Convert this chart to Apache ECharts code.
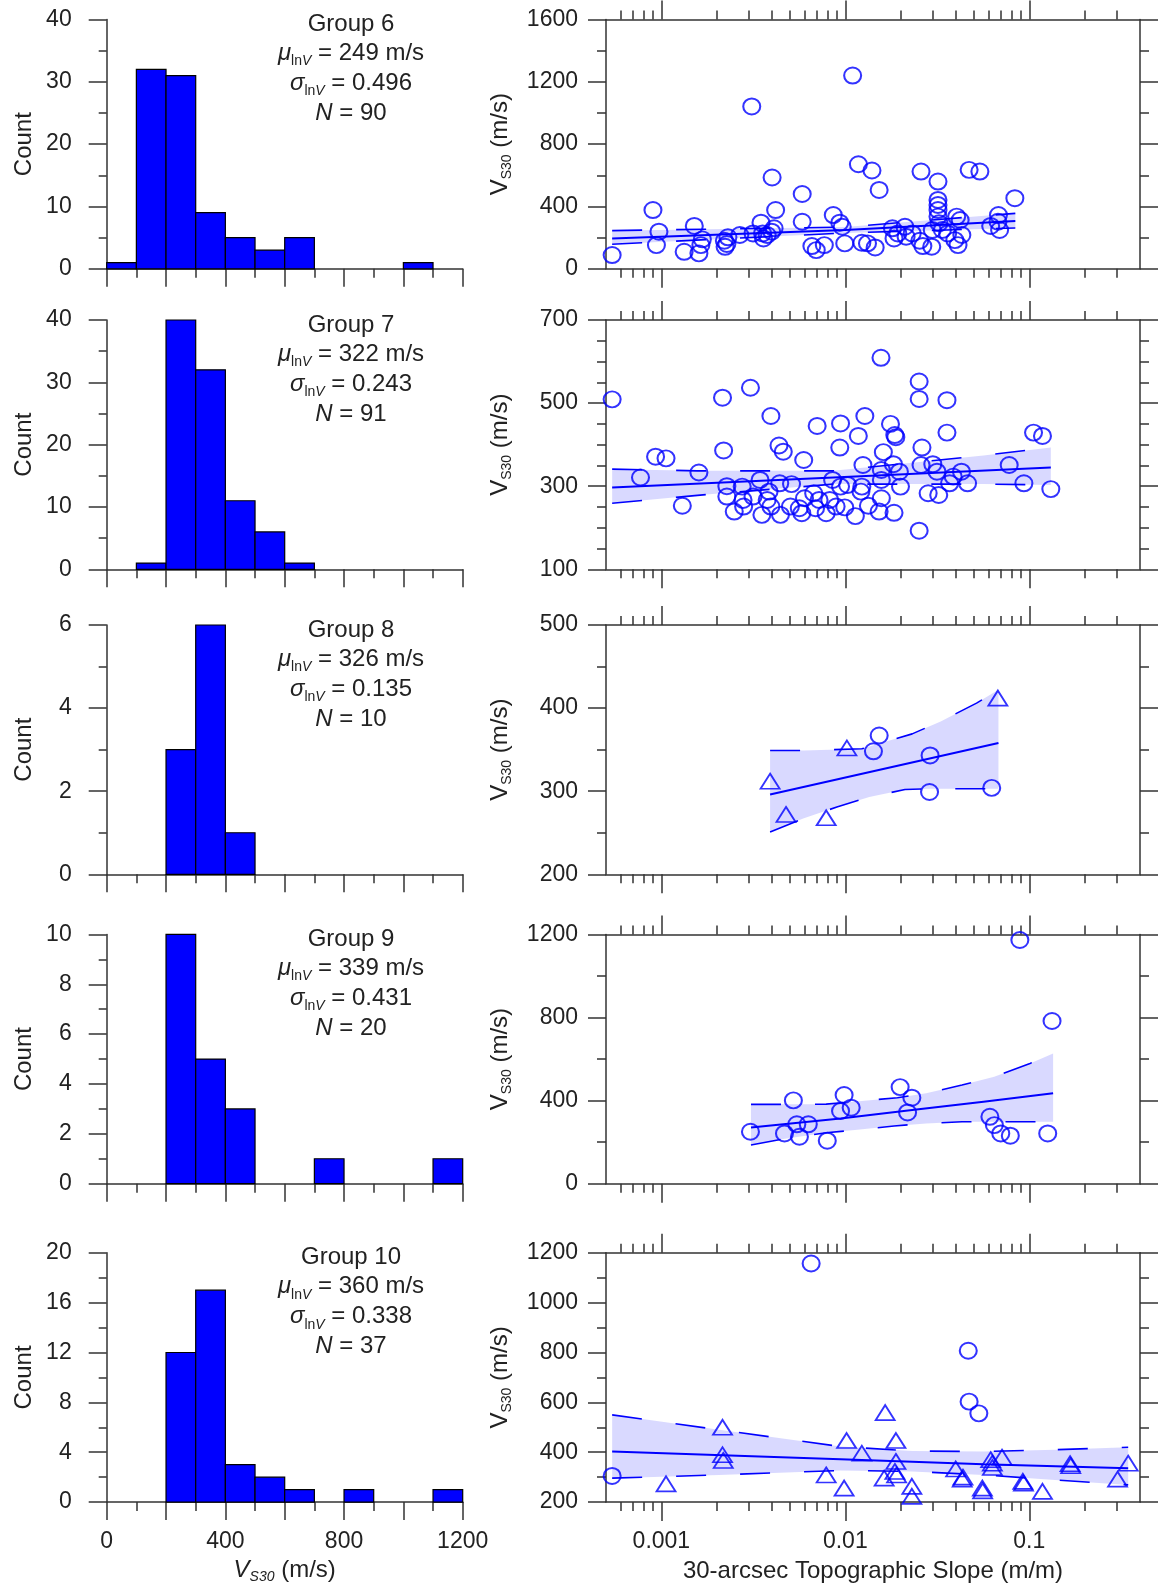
<!DOCTYPE html>
<html><head><meta charset="utf-8">
<script src="https://cdn.jsdelivr.net/npm/echarts@6/dist/echarts.min.js"></script>
<style>html,body{margin:0;padding:0;background:#fff}#c{width:1161px;height:1593px}</style>
</head><body><div id="c"></div>
<script>
// ---------------- DATA ----------------
// Histogram bin starts (m/s, bins are 100 m/s wide) and counts
const binWidth = 100;
const g6Bins = [0,100,200,300,400,500,600,1000];   const g6Counts = [1,32,31,9,5,3,5,1];
const g7Bins = [100,200,300,400,500,600];          const g7Counts = [1,40,32,11,6,1];
const g8Bins = [200,300,400];                      const g8Counts = [3,6,1];
const g9Bins = [200,300,400,700,1100];             const g9Counts = [10,5,3,1,1];
const g10Bins = [200,300,400,500,600,800,1100];    const g10Counts = [12,17,3,2,1,1,1];

// Slope axis range and tick values
const slopeMin = 0.0005, slopeMax = 0.4;
const slopeMinorTicks = [0.0006,0.0007,0.0008,0.0009,0.002,0.003,0.004,0.005,0.006,0.007,0.008,0.009,
  0.02,0.03,0.04,0.05,0.06,0.07,0.08,0.09,0.2,0.3];
const slopeMajorTicks = [0.001,0.01,0.1];

// Scatter points [slope, Vs30]
const g6Circ = [[0.00054,88],[0.0009,377],[0.00097,238],[0.00094,152],[0.00133,109],[0.00151,275],[0.0016,99],
 [0.00167,189],[0.00164,152],[0.0022,180],[0.00222,141],[0.00227,159],[0.0023,202],[0.00267,217],[0.00315,227],
 [0.0031,1042],[0.00348,296],[0.00355,227],[0.00359,195],[0.00376,217],[0.00398,238],[0.0041,260],[0.004,586],
 [0.00418,377],[0.00583,480],[0.00583,302],[0.00658,146],[0.00695,120],[0.00769,152],[0.0086,345],[0.00933,296],
 [0.00962,270],[0.00993,163],[0.01096,1240],[0.01178,671],[0.01396,631],[0.01527,506],[0.0123,167],[0.0132,163],
 [0.01453,137],[0.01803,260],[0.0184,195],[0.0193,227],[0.0211,270],[0.0214,206],[0.0231,227],[0.0254,180],
 [0.0258,624],[0.0264,146],[0.0295,142],[0.0297,249],[0.0319,560],[0.0319,442],[0.0319,410],[0.0319,377],
 [0.0319,335],[0.0323,292],[0.0337,249],[0.036,227],[0.0394,184],[0.0403,335],[0.0421,313],[0.043,217],
 [0.041,152],[0.0471,635],[0.0539,624],[0.0617,275],[0.068,345],[0.0676,302],[0.069,249],[0.0835,453]];
const g7Circ = [[0.00054,509],[0.00077,321],[0.00093,371],[0.00106,367],[0.0013,253],[0.0016,333],[0.00215,513],
 [0.00218,386],[0.00227,300],[0.00227,275],[0.00249,239],[0.00275,299],[0.00278,267],[0.0028,251],[0.00305,537],
 [0.00315,275],[0.00344,315],[0.00352,231],[0.00376,267],[0.00385,287],[0.00394,469],[0.00394,251],[0.00436,398],
 [0.0046,383],[0.0044,307],[0.00444,231],[0.00503,251],[0.0051,305],[0.00562,247],[0.0058,235],[0.00594,363],
 [0.006,271],[0.00673,283],[0.00689,247],[0.00703,445],[0.0072,267],[0.00787,235],[0.00823,267],[0.00853,315],
 [0.00891,251],[0.00942,451],[0.00933,393],[0.00942,299],[0.00993,249],[0.0103,303],[0.01134,228],[0.01177,421],
 [0.01216,287],[0.0123,299],[0.01247,351],[0.01277,469],[0.01335,253],[0.01527,239],[0.01563,609],[0.0157,339],
 [0.0157,315],[0.0157,271],[0.0161,382],[0.0176,450],[0.01825,353],[0.01858,423],[0.01882,418],[0.0184,236],
 [0.01968,335],[0.01995,299],[0.0252,552],[0.0252,510],[0.0252,193],[0.0258,351],[0.0261,393],[0.0282,283],
 [0.0299,353],[0.0315,335],[0.0322,279],[0.0357,507],[0.0357,429],[0.0369,307],[0.0386,323],[0.0428,335],
 [0.0462,307],[0.0778,351],[0.0935,307],[0.1055,429],[0.118,421],[0.131,293]];
const g8Circ = [[0.01528,367],[0.01422,348],[0.0289,343],[0.0287,299],[0.0625,304]];
const g8Tri = [[0.0039,312],[0.00476,272],[0.00787,268],[0.0102,352],[0.0675,412]];
const g9Circ = [[0.00305,250],[0.00467,242],[0.00522,401],[0.00545,286],[0.00563,226],[0.00629,286],[0.00798,207],
 [0.00942,350],[0.00985,427],[0.01076,366],[0.01986,465],[0.023,414],[0.0218,343],[0.0611,322],[0.0646,282],
 [0.07,242],[0.0789,231],[0.0889,1173],[0.126,242],[0.133,783]];
const g10Circ = [[0.00054,305],[0.00652,1157],[0.0466,807],[0.0471,603],[0.0532,556]];
const g10Tri = [[0.00106,273],[0.00215,500],[0.00215,390],[0.00217,367],[0.00787,309],[0.00985,256],[0.01016,447],
 [0.0123,396],[0.01626,296],[0.01647,559],[0.01884,447],[0.01884,363],[0.0186,323],[0.019,309],[0.023,263],
 [0.023,223],[0.0398,333],[0.0432,292],[0.0436,300],[0.0556,256],[0.0558,245],[0.0617,370],[0.063,339],
 [0.063,356],[0.0711,380],[0.0923,283],[0.093,276],[0.118,243],[0.1667,354],[0.168,346],[0.302,292],[0.345,356]];

// Regression line and confidence bounds [slope, Vs30]
const g6Center = [[0.00054,195],[0.01,249],[0.084,307]];
const g6Upper  = [[0.00054,245],[0.01,268],[0.084,356]];
const g6Lower  = [[0.00054,158],[0.01,230],[0.084,262]];
const g7Center = [[0.00054,297],[0.0086,321],[0.131,345]];
const g7Upper  = [[0.00054,341],[0.00157,337],[0.0086,337],[0.0564,374],[0.131,393]];
const g7Lower  = [[0.00054,259],[0.00157,278],[0.0086,305],[0.0564,305],[0.131,303]];
const g8Center = [[0.0039,296],[0.068,358]];
const g8Upper  = [[0.0039,349],[0.006,349],[0.0123,351],[0.0231,369],[0.033,384],[0.0517,406],[0.068,422]];
const g8Lower  = [[0.0039,251],[0.0059,267],[0.009,281],[0.0135,293],[0.0211,302],[0.0287,303],[0.068,303]];
const g9Center = [[0.00307,271],[0.00942,314],[0.0231,355],[0.0564,395],[0.1348,435]];
const g9Upper  = [[0.00307,382],[0.0046,382],[0.00787,383],[0.0192,414],[0.0275,435],[0.0431,475],[0.0645,515],[0.1009,579],[0.1348,627]];
const g9Lower  = [[0.00307,186],[0.0046,215],[0.00787,245],[0.01127,258],[0.0184,278],[0.0275,290],[0.0431,298],[0.0674,298],[0.1348,298]];
const g10Center = [[0.00054,403],[0.00942,372],[0.0564,352],[0.345,336]];
const g10Upper  = [[0.00054,550],[0.00206,490],[0.00942,423],[0.0231,405],[0.0564,403],[0.138,410],[0.345,420]];
const g10Lower  = [[0.00054,296],[0.00206,309],[0.00942,327],[0.0231,323],[0.0564,309],[0.138,289],[0.345,269]];

// Group statistics text
const groupNames = ['Group 6','Group 7','Group 8','Group 9','Group 10'];
const groupMu = ['249','322','326','339','360'];
const groupSigma = ['0.496','0.243','0.135','0.431','0.338'];
const groupN = ['90','91','10','20','37'];

// ---------------- LAYOUT / STYLE ----------------
const FONT = "'Liberation Sans', Arial, Helvetica, sans-serif";
const AXC = '#333';
const TXT = '#222';
const BLUE = '#0000ff';
const BAND = 'rgba(30,30,255,0.17)';
const ROW_TOP = [19.5, 320, 625, 934.4, 1252.8];
const ROW_H = 249.3;
const H_LEFT = 106.7, H_W = 356;
const S_LEFT = 606, S_W = 534;
const CIRCLE = 'path://M0,50A50,50,0,1,0,100,50A50,50,0,1,0,0,50Z';
const TRI = 'path://M50,0L100,100L0,100Z';

const rows = [
 {bins:g6Bins, counts:g6Counts, hMax:40, hInt:10, sMin:0, sMax:1600, sInt:400, sSplit:2, circ:g6Circ, tri:[], c:g6Center, u:g6Upper, l:g6Lower},
 {bins:g7Bins, counts:g7Counts, hMax:40, hInt:10, sMin:100, sMax:700, sInt:200, sSplit:4, circ:g7Circ, tri:[], c:g7Center, u:g7Upper, l:g7Lower},
 {bins:g8Bins, counts:g8Counts, hMax:6, hInt:2, sMin:200, sMax:500, sInt:100, sSplit:2, circ:g8Circ, tri:g8Tri, c:g8Center, u:g8Upper, l:g8Lower},
 {bins:g9Bins, counts:g9Counts, hMax:10, hInt:2, sMin:0, sMax:1200, sInt:400, sSplit:2, circ:g9Circ, tri:[], c:g9Center, u:g9Upper, l:g9Lower},
 {bins:g10Bins, counts:g10Counts, hMax:20, hInt:4, sMin:200, sMax:1200, sInt:200, sSplit:2, circ:g10Circ, tri:g10Tri, c:g10Center, u:g10Upper, l:g10Lower}
];

const lineSt = {color: AXC, width: 1.5};
const tickLbl = {fontFamily: FONT, fontSize: 23, color: TXT};
const nameRichUpright = {
  v:{fontFamily:FONT, fontSize:24, color:TXT, lineHeight:28, verticalAlign:'middle'},
  s:{fontFamily:FONT, fontSize:14, color:TXT, lineHeight:15, verticalAlign:'bottom'},
  n:{fontFamily:FONT, fontSize:24, color:TXT, lineHeight:28, verticalAlign:'middle'}
};
const nameRichItalic = {
  v:{fontFamily:FONT, fontSize:24, fontStyle:'italic', color:TXT, lineHeight:28, verticalAlign:'middle'},
  s:{fontFamily:FONT, fontSize:14, fontStyle:'italic', color:TXT, lineHeight:15, verticalAlign:'bottom'},
  n:{fontFamily:FONT, fontSize:24, color:TXT, lineHeight:28, verticalAlign:'middle'}
};
const annRich = {
  i:{fontFamily:FONT, fontSize:24, fontStyle:'italic', fill:TXT, lineHeight:30, verticalAlign:'middle'},
  s:{fontFamily:FONT, fontSize:14, fill:TXT, lineHeight:16, verticalAlign:'bottom'},
  si:{fontFamily:FONT, fontSize:14, fontStyle:'italic', fill:TXT, lineHeight:16, verticalAlign:'bottom'},
  n:{fontFamily:FONT, fontSize:24, fill:TXT, lineHeight:30, verticalAlign:'middle'}
};
const plainNum = v => String(v);

const grid = [], xAxis = [], yAxis = [], series = [], elements = [];
const LMIN = Math.log10(slopeMin), LMAX = Math.log10(slopeMax);

// Tick/label axis for the slope: linear in log10(slope), same extent as the hidden log data axis
function slopeTickAxis(gi, pos, ticks, len, showLine, labels, withName) {
  return {
    gridIndex: gi, type: 'value', min: LMIN, max: LMAX, position: pos,
    axisLine: {show: showLine, lineStyle: lineSt},
    axisTick: {show: true, inside: false, length: len, customValues: ticks.map(Math.log10), lineStyle: lineSt},
    minorTick: {show: false},
    axisLabel: labels ? Object.assign({show: true, margin: 28, customValues: slopeMajorTicks.map(Math.log10),
       formatter: v => String(+Math.pow(10, v).toPrecision(2))}, tickLbl) : {show: false},
    splitLine: {show: false}, minorSplitLine: {show: false},
    name: withName ? '30-arcsec Topographic Slope (m/m)' : '',
    nameLocation: 'middle', nameGap: 57, nameMoveOverlap: false,
    nameTextStyle: {fontFamily: FONT, fontSize: 24, color: TXT},
    silent: true
  };
}

rows.forEach((r, k) => {
  const top = ROW_TOP[k];
  const last = k === rows.length - 1;

  // ---- histogram ----
  const hg = grid.length;
  grid.push({left: H_LEFT, top: top, width: H_W, height: ROW_H, containLabel: false, outerBoundsMode: 'none'});
  const hx = xAxis.length;
  xAxis.push({
    gridIndex: hg, type: 'value', min: 0, max: 1200, interval: 200, position: 'bottom',
    axisLine: {show: true, lineStyle: lineSt},
    axisTick: {show: true, inside: false, length: 18, lineStyle: lineSt},
    minorTick: {show: true, splitNumber: 2, length: 9, lineStyle: lineSt},
    splitLine: {show: false}, minorSplitLine: {show: false},
    axisLabel: last ? Object.assign({show: true, margin: 28, showMinLabel: true, showMaxLabel: true,
      formatter: v => (v % 400 === 0 ? String(v) : '')}, tickLbl) : {show: false},
    name: last ? '{v|V}{s|S30}{n| (m/s)}' : '', nameLocation: 'middle', nameGap: 54, nameMoveOverlap: false,
    nameTextStyle: {fontFamily: FONT, fontSize: 24, color: TXT, rich: nameRichItalic}
  });
  const hy = yAxis.length;
  yAxis.push({
    gridIndex: hg, type: 'value', min: 0, max: r.hMax, interval: r.hInt, position: 'left',
    axisLine: {show: true, lineStyle: lineSt},
    axisTick: {show: true, inside: false, length: 18, lineStyle: lineSt},
    minorTick: {show: true, splitNumber: 2, length: 8, lineStyle: lineSt},
    splitLine: {show: false}, minorSplitLine: {show: false},
    axisLabel: Object.assign({show: true, margin: 35, showMinLabel: true, showMaxLabel: true, formatter: plainNum}, tickLbl),
    name: 'Count', nameLocation: 'middle', nameGap: 70, nameRotate: 90, nameMoveOverlap: false,
    nameTextStyle: {fontFamily: FONT, fontSize: 24, color: TXT}
  });
  series.push({
    type: 'custom', xAxisIndex: hx, yAxisIndex: hy, silent: true, animation: false, z: 3,
    data: r.bins.map((b, i) => [b, b + binWidth, r.counts[i]]),
    encode: {x: [0, 1], y: 2},
    renderItem: (p, api) => {
      const a = api.coord([api.value(0), api.value(2)]);
      const b = api.coord([api.value(1), 0]);
      return {type: 'rect', shape: {x: a[0], y: a[1], width: b[0] - a[0], height: b[1] - a[1]},
        style: {fill: BLUE, stroke: '#000', lineWidth: 1.2}};
    }
  });

  // ---- scatter ----
  const sg = grid.length;
  grid.push({left: S_LEFT, top: top, width: S_W, height: ROW_H, containLabel: false, outerBoundsMode: 'none'});
  // hidden log data axis
  const sx = xAxis.length;
  xAxis.push({gridIndex: sg, type: 'log', logBase: 10, min: slopeMin, max: slopeMax, position: 'bottom', show: false,
    splitLine: {show: false}});
  xAxis.push(slopeTickAxis(sg, 'bottom', slopeMinorTicks, 9, true, last, last));
  xAxis.push(slopeTickAxis(sg, 'top', slopeMinorTicks, 9, true, false, false));
  xAxis.push(slopeTickAxis(sg, 'bottom', slopeMajorTicks, 19, false, false, false));
  xAxis.push(slopeTickAxis(sg, 'top', slopeMajorTicks, 19, false, false, false));
  const sy = yAxis.length;
  [['left', true], ['right', false]].forEach(([pos, lab]) => {
    yAxis.push({
      gridIndex: sg, type: 'value', min: r.sMin, max: r.sMax, interval: r.sInt, position: pos,
      axisLine: {show: true, lineStyle: lineSt},
      axisTick: {show: true, inside: false, length: 18, lineStyle: lineSt},
      minorTick: {show: true, splitNumber: r.sSplit, length: 9, lineStyle: lineSt},
      splitLine: {show: false}, minorSplitLine: {show: false},
      axisLabel: lab ? Object.assign({show: true, margin: 28, showMinLabel: true, showMaxLabel: true, formatter: plainNum}, tickLbl) : {show: false},
      name: lab ? '{v|V}{s|S30}{n| (m/s)}' : '', nameLocation: 'middle', nameGap: 92, nameRotate: 90,
      nameMoveOverlap: false,
      nameTextStyle: {fontFamily: FONT, fontSize: 24, color: TXT, rich: nameRichUpright}
    });
  });

  const up = r.u, lo = r.l;
  series.push({
    type: 'custom', xAxisIndex: sx, yAxisIndex: sy, silent: true, animation: false, z: 1,
    data: [up[0]], encode: {x: 0, y: 1},
    renderItem: (p, api) => {
      const pts = up.map(q => api.coord(q)).concat(lo.slice().reverse().map(q => api.coord(q)));
      return {type: 'polygon', shape: {points: pts}, style: {fill: BAND}};
    }
  });
  [[up, 'dash'], [lo, 'dash'], [r.c, 'solid']].forEach(([d, t]) => {
    series.push({
      type: 'line', xAxisIndex: sx, yAxisIndex: sy, data: d, symbol: 'none', showSymbol: false,
      silent: true, animation: false, z: 2,
      lineStyle: {color: BLUE, width: t === 'solid' ? 2 : 1.6, type: t === 'solid' ? 'solid' : [30, 34]}
    });
  });
  if (r.circ.length) series.push({
    type: 'scatter', xAxisIndex: sx, yAxisIndex: sy, data: r.circ, symbol: CIRCLE, symbolSize: [17, 16],
    silent: true, animation: false, z: 4,
    itemStyle: {color: 'rgba(0,0,0,0)', borderColor: BLUE, borderWidth: 2}
  });
  if (r.tri.length) series.push({
    type: 'scatter', xAxisIndex: sx, yAxisIndex: sy, data: r.tri, symbol: TRI, symbolSize: [19, 15],
    silent: true, animation: false, z: 4,
    itemStyle: {color: 'rgba(0,0,0,0)', borderColor: BLUE, borderWidth: 1.8}
  });

  // ---- annotation ----
  const texts = [
    '{n|' + groupNames[k] + '}',
    '{i|μ}{s|ln}{si|V}{n| = ' + groupMu[k] + ' m/s}',
    '{i|σ}{s|ln}{si|V}{n| = ' + groupSigma[k] + '}',
    '{i|N}{n| = ' + groupN[k] + '}'
  ];
  const offs = [5, 34, 64, 94];
  texts.forEach((t, j) => {
    elements.push({
      type: 'text', x: 351, y: top + offs[j], silent: true,
      style: {text: t, rich: annRich, fontFamily: FONT, fontSize: 24, fill: TXT,
        align: 'center', verticalAlign: 'middle', textAlign: 'center', textVerticalAlign: 'middle'}
    });
  });
});

const chart = echarts.init(document.getElementById('c'), null, {renderer: 'canvas'});
chart.setOption({
  backgroundColor: '#fff',
  animation: false,
  grid, xAxis, yAxis, series,
  graphic: {elements}
});
</script></body></html>
